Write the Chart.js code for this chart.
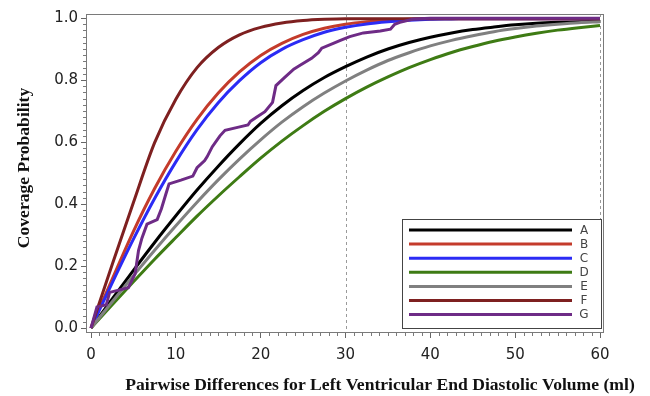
<!DOCTYPE html>
<html>
<head>
<meta charset="utf-8">
<script src="https://cdn.jsdelivr.net/npm/chart.js@4.4.1/dist/chart.umd.min.js"></script>
<style>
  html, body { margin: 0; padding: 0; background: #fff; }
  #wrap { width: 650px; height: 396px; }
</style>
</head>
<body>
<div id="wrap"><canvas id="cov" width="650" height="396"></canvas></div>
<script>
// x grid (ml) shared by the smooth curves
const xGrid = [0, 2.5, 5, 7.5, 10, 12.5, 15, 17.5, 20, 22.5, 25, 27.5, 30, 32.5, 35, 37.5, 40, 42.5, 45, 47.5, 50, 52.5, 55, 57.5, 60];

const seriesA = [0, 0.094, 0.186, 0.276, 0.362, 0.445, 0.522, 0.594, 0.660, 0.717, 0.766, 0.808, 0.843, 0.874, 0.900, 0.921, 0.938, 0.952, 0.963, 0.971, 0.978, 0.983, 0.986, 0.988, 0.990];
const seriesB = [0, 0.158, 0.312, 0.450, 0.570, 0.673, 0.758, 0.826, 0.879, 0.918, 0.947, 0.967, 0.980, 0.988, 0.993, 0.996, 0.997, 0.998, 0.998, 0.998, 0.998, 0.998, 0.998, 0.998, 0.998];
const seriesC = [0, 0.146, 0.287, 0.418, 0.536, 0.640, 0.727, 0.798, 0.856, 0.899, 0.930, 0.954, 0.970, 0.981, 0.988, 0.993, 0.996, 0.997, 0.998, 0.998, 0.998, 0.998, 0.998, 0.998, 0.998];
const seriesD = [0, 0.075, 0.149, 0.222, 0.292, 0.361, 0.426, 0.488, 0.548, 0.603, 0.653, 0.699, 0.740, 0.777, 0.810, 0.840, 0.866, 0.889, 0.908, 0.925, 0.939, 0.951, 0.961, 0.969, 0.976];
const seriesE = [0, 0.085, 0.169, 0.251, 0.330, 0.406, 0.478, 0.545, 0.607, 0.664, 0.714, 0.758, 0.797, 0.832, 0.863, 0.888, 0.910, 0.928, 0.943, 0.956, 0.966, 0.974, 0.980, 0.985, 0.988];
const seriesF = [0, 0.205, 0.405, 0.598, 0.738, 0.840, 0.905, 0.946, 0.970, 0.984, 0.992, 0.996, 0.998, 0.998, 0.998, 0.998, 0.998, 0.998, 0.998, 0.998, 0.998, 0.998, 0.998, 0.998, 0.998];

// G is empirical, so it has its own (step-like) x positions
const gX = [0, 0.7, 1.8, 2.2, 4.4, 5.2, 5.6, 6.0, 6.6, 7.8, 8.3, 8.8, 9.2, 10.6, 12.0, 12.5, 13.4, 13.7, 14.3, 15.2, 15.8, 17.4, 18.5, 18.8, 19.5, 20.5, 21.4, 21.8, 22.3, 22.9, 23.9, 24.5, 26.0, 26.8, 27.2, 28.7, 29.4, 30.5, 32.1, 34.1, 35.3, 35.8, 36.4, 38.0, 40, 60];
const gY = [0, 0.068, 0.075, 0.115, 0.130, 0.175, 0.250, 0.290, 0.335, 0.350, 0.385, 0.430, 0.465, 0.477, 0.490, 0.517, 0.540, 0.553, 0.585, 0.620, 0.638, 0.648, 0.655, 0.667, 0.680, 0.698, 0.728, 0.782, 0.795, 0.810, 0.835, 0.845, 0.870, 0.888, 0.903, 0.920, 0.928, 0.940, 0.952, 0.958, 0.964, 0.980, 0.986, 0.997, 0.999, 0.999];

const seriesNames = ['A', 'B', 'C', 'D', 'E', 'F', 'G'];
const seriesColors = ['#000000', '#c43b2b', '#2b2bf5', '#3e7b14', '#808080', '#7e2020', '#6e2b86'];

const xTicks = [0, 10, 20, 30, 40, 50, 60];
const yTicks = [0, 0.2, 0.4, 0.6, 0.8, 1.0];
const refLines = [30, 60];

const smoothSeries = [seriesA, seriesB, seriesC, seriesD, seriesE, seriesF];

const datasets = seriesNames.map((name, i) => {
  const pts = i < 6
    ? xGrid.map((x, j) => ({ x: x, y: smoothSeries[i][j] }))
    : gX.map((x, j) => ({ x: x, y: gY[j] }));
  return {
    label: name,
    data: pts,
    borderColor: seriesColors[i],
    backgroundColor: seriesColors[i],
    borderWidth: 3,
    pointRadius: 0,
    fill: false,
    tension: 0,
    cubicInterpolationMode: i < 6 ? 'monotone' : 'default',
    order: 6 - i // later series on top
  };
});

// frame, reference lines, minor ticks, legend box and axis titles
const decor = {
  id: 'decor',
  beforeDatasetsDraw(chart) {
    const { ctx, chartArea: a, scales: { x } } = chart;
    ctx.save();
    ctx.strokeStyle = '#9a9a9a';
    ctx.lineWidth = 1;
    ctx.setLineDash([3, 3]);
    refLines.forEach(v => {
      const px = Math.round(x.getPixelForValue(v)) + 0.5;
      ctx.beginPath();
      ctx.moveTo(px, a.top);
      ctx.lineTo(px, a.bottom);
      ctx.stroke();
    });
    ctx.restore();
  },
  afterDraw(chart) {
    const { ctx, chartArea: a, scales: { x, y } } = chart;
    ctx.save();
    ctx.strokeStyle = '#7a7a7a';
    ctx.lineWidth = 1;
    ctx.strokeRect(a.left + 0.5, a.top + 0.5, a.right - a.left - 1, a.bottom - a.top - 1);

    // minor ticks
    ctx.beginPath();
    for (let v = 1; v < 60; v++) {
      if (v % 10 === 0) continue;
      const px = Math.round(x.getPixelForValue(v)) + 0.5;
      ctx.moveTo(px, a.bottom);
      ctx.lineTo(px, a.bottom + 3);
    }
    for (let k = 1; k < 50; k++) {
      if (k % 10 === 0) continue;
      const py = Math.round(y.getPixelForValue(k / 50)) + 0.5;
      ctx.moveTo(a.left - 3, py);
      ctx.lineTo(a.left, py);
    }
    ctx.stroke();

    // legend
    const bx = a.right - 202, by = a.bottom - 114, bw = 199, bh = 109;
    ctx.fillStyle = '#fff';
    ctx.fillRect(bx, by, bw, bh);
    ctx.strokeStyle = '#444';
    ctx.strokeRect(bx + 0.5, by + 0.5, bw, bh);
    ctx.font = '12px "DejaVu Sans"';
    ctx.textBaseline = 'middle';
    ctx.textAlign = 'center';
    seriesNames.forEach((name, i) => {
      const ly = by + 11 + i * 14.1;
      ctx.strokeStyle = seriesColors[i];
      ctx.lineWidth = 3;
      ctx.beginPath();
      ctx.moveTo(bx + 7, ly);
      ctx.lineTo(bx + 170, ly);
      ctx.stroke();
      ctx.fillStyle = '#444';
      ctx.fillText(name, bx + 182, ly + 0.5);
    });

    // axis titles
    ctx.fillStyle = '#111';
    ctx.font = 'bold 17.6px "Liberation Serif"';
    ctx.textAlign = 'center';
    ctx.textBaseline = 'middle';
    ctx.fillText('Pairwise Differences for Left Ventricular End Diastolic Volume (ml)', 380, 385);
    ctx.translate(24, 168);
    ctx.rotate(-Math.PI / 2);
    ctx.fillText('Coverage Probability', 0, 0);
    ctx.restore();
  }
};

new Chart(document.getElementById('cov'), {
  type: 'line',
  data: { datasets: datasets },
  options: {
    responsive: false,
    devicePixelRatio: 1,
    animation: false,
    layout: { padding: { top: 14, right: 46, bottom: 0, left: 0 } },
    plugins: { legend: { display: false }, tooltip: { enabled: false } },
    scales: {
      x: {
        type: 'linear',
        min: -0.59,
        max: 60.47,
        afterBuildTicks: axis => { axis.ticks = xTicks.map(v => ({ value: v })); },
        afterFit: s => { s.height = 63; },
        grid: { drawOnChartArea: false, drawTicks: true, tickLength: 5, tickColor: '#666' },
        border: { display: false },
        ticks: {
          color: '#222',
          font: { family: 'DejaVu Sans', size: 15 },
          padding: 8,
          maxRotation: 0,
          callback: v => v
        }
      },
      y: {
        type: 'linear',
        min: -0.016,
        max: 1.013,
        afterBuildTicks: axis => { axis.ticks = yTicks.map(v => ({ value: v })); },
        afterFit: s => { s.width = 86; },
        grid: { drawOnChartArea: false, drawTicks: true, tickLength: 5, tickColor: '#666' },
        border: { display: false },
        ticks: {
          color: '#222',
          font: { family: 'DejaVu Sans', size: 15 },
          padding: 3,
          callback: v => v.toFixed(1)
        }
      }
    }
  },
  plugins: [decor]
});
</script>
</body>
</html>
